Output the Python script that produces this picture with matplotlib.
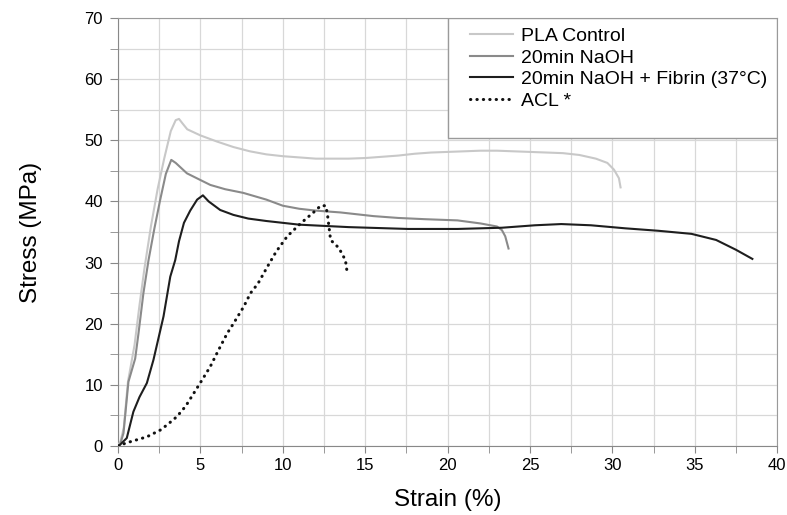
import matplotlib
matplotlib.use("Agg")
import matplotlib.pyplot as plt
from matplotlib.patches import Rectangle
from matplotlib.ticker import MultipleLocator

plt.rcParams["font.family"] = ["Liberation Sans", "DejaVu Sans"]

# strain (%) / stress (MPa)
pla_strain = [0, 0.15, 0.35, 0.6, 0.8, 1.0, 1.3, 1.6, 2.0, 2.4, 2.8, 3.2, 3.5, 3.7,
              3.9, 4.2, 5.0, 6.0, 7.0, 8.0, 9.0, 10.0, 11.0, 12.0, 13.0, 14.0, 15.0,
              16.0, 17.0, 18.0, 19.0, 20.0, 21.0, 22.0, 23.0, 24.0, 25.0, 26.0, 27.0,
              28.0, 29.0, 29.7, 30.1, 30.4, 30.5]
pla_stress = [0, 0.8, 3, 10.5, 13.5, 16.5, 23, 29, 36, 42, 47, 51.5, 53.3, 53.5,
              52.8, 51.8, 50.8, 49.8, 48.9, 48.2, 47.7, 47.4, 47.2, 47.0, 47.0, 47.0, 47.1,
              47.3, 47.5, 47.8, 48.0, 48.1, 48.2, 48.3, 48.3, 48.2, 48.1, 48.0, 47.9,
              47.6, 47.0, 46.3, 45.2, 43.8, 42.3]

naoh_strain = [0, 0.12, 0.33, 0.63, 1.04, 1.24, 1.54, 1.85, 2.2, 2.56, 2.9, 3.23, 3.5,
               4.18, 5.0, 5.6, 6.5, 7.6, 9.0, 10.0, 11.0, 12.0, 13.5, 15.5, 17.0, 18.6,
               20.6, 22.0, 23.0, 23.3, 23.5, 23.7]
naoh_stress = [0, 0.2, 2.1, 10.5, 14.3, 18.4, 25, 30.4, 35.5, 40.3, 44.5, 46.8, 46.3,
               44.6, 43.5, 42.7, 42.0, 41.4, 40.3, 39.3, 38.8, 38.5, 38.2, 37.6, 37.3, 37.1,
               36.9, 36.4, 35.9, 35.3, 34.3, 32.3]

fibrin_strain = [0, 0.12, 0.53, 0.93, 1.3, 1.75, 2.15, 2.76, 3.17, 3.47, 3.7, 4.0, 4.38,
                 4.8, 5.15, 5.5, 6.2, 7.0, 7.9, 9.0, 11.0, 14.0, 17.6, 20.6, 23.3, 25.3,
                 26.9, 28.7, 30.8, 32.8, 34.8, 36.3, 37.5, 38.5]
fibrin_stress = [0, 0.2, 1.3, 5.6, 8, 10.3, 14.1, 21.2, 27.7, 30.4, 33.5, 36.5, 38.5,
                 40.3, 41, 40, 38.6, 37.8, 37.2, 36.8, 36.2, 35.8, 35.5, 35.5, 35.7, 36.1,
                 36.3, 36.1, 35.6, 35.2, 34.7, 33.7, 32.1, 30.6]

acl_strain = [0, 0.5, 1.0, 1.75, 2.56, 3.0, 3.57, 4.1, 4.59, 5.1, 5.6, 6.1, 6.62, 7.02,
              7.63, 8.04, 8.5, 9.06, 9.6, 10.27, 11.08, 11.9, 12.3, 12.6, 12.7, 12.8,
              12.9, 13.4, 13.8, 13.9]
acl_stress = [0, 0.5, 0.9, 1.5, 2.6, 3.5, 4.8, 6.5, 8.6, 10.8, 13, 15.7, 18.4, 20.1,
              22.8, 25, 26.6, 29.3, 31.8, 34.3, 36.4, 38.3, 39.3, 39.3, 38.1, 35.9,
              33.7, 32.4, 30.4, 28.5]

labels = ["PLA Control", "20min NaOH", "20min NaOH + Fibrin (37°C)", "ACL *"]

fig = plt.figure(figsize=(7.87, 5.15), dpi=100)
ax = fig.add_axes([0.15, 0.134, 0.8374, 0.831])

ax.plot(pla_strain, pla_stress, color="#c8c8c8", lw=1.5, label=labels[0], zorder=3)
ax.plot(naoh_strain, naoh_stress, color="#8a8a8a", lw=1.5, label=labels[1], zorder=3)
ax.plot(fibrin_strain, fibrin_stress, color="#1e1e1e", lw=1.5, label=labels[2], zorder=3)
ax.plot(acl_strain, acl_stress, color="#111111", lw=2.2, ls=(0, (0.1, 2.0)),
        dash_capstyle="round", label=labels[3], zorder=3)

ax.set_xlim(0, 40)
ax.set_ylim(0, 70)
ax.xaxis.set_major_locator(MultipleLocator(5))
ax.xaxis.set_minor_locator(MultipleLocator(2.5))
ax.yaxis.set_major_locator(MultipleLocator(10))
ax.yaxis.set_minor_locator(MultipleLocator(5))

ax.grid(which="both", color="#d8d8d8", lw=0.9, zorder=0)
ax.set_axisbelow(True)
ax.tick_params(axis="y", which="both", length=6, color="#888888", labelsize=12, pad=5)
ax.tick_params(axis="x", which="both", length=5, color="#888888", labelsize=12, pad=4)

for side in ["left", "bottom"]:
    ax.spines[side].set_color("#888888")
for side in ["top", "right"]:
    ax.spines[side].set_color("#9a9a9a")

ax.set_xlabel("Strain (%)", fontsize=17.5, labelpad=11)
ax.set_ylabel("Stress (MPa)", fontsize=17.5, labelpad=30)

box = Rectangle((0.5008, 0.72), 0.4992, 0.28, transform=ax.transAxes,
                facecolor="white", edgecolor="#9a9a9a", lw=1.0, zorder=4)
ax.add_patch(box)

legend = ax.legend(loc="upper left", bbox_to_anchor=(0.534, 0.978), frameon=False,
                   fontsize=14, handlelength=2.2, handletextpad=0.4,
                   labelspacing=0.2, borderpad=0, borderaxespad=0)
legend.set_zorder(5)

fig.savefig("out.png", dpi=100, facecolor="white")
